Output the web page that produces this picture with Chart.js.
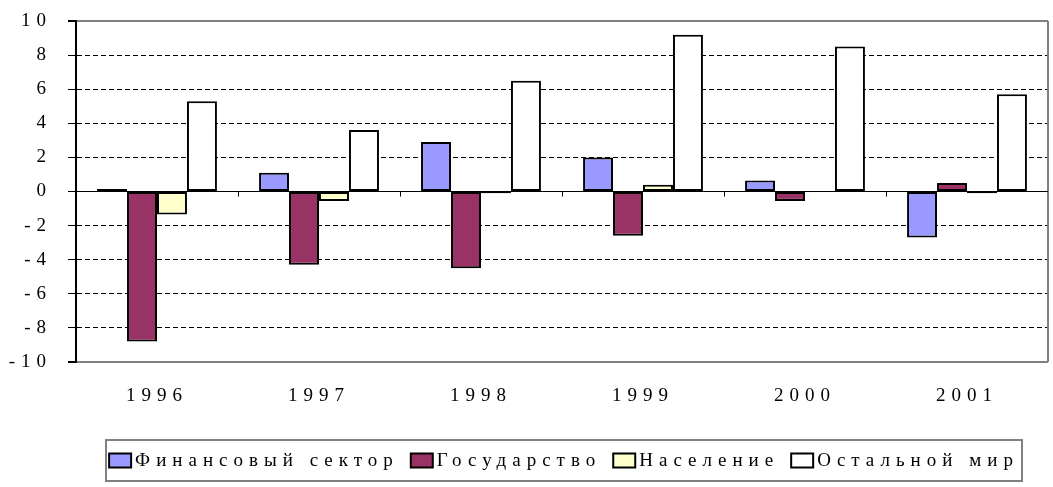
<!DOCTYPE html>
<html>
<head>
<meta charset="utf-8">
<script src="https://cdn.jsdelivr.net/npm/chart.js@4.4.0/dist/chart.umd.min.js"></script>
<style>
  body { margin: 0; background: #fff; }
</style>
</head>
<body>
<canvas id="myChart" width="1053" height="487"></canvas>
<script>
// годы и данные (оценка по картинке)
const years = ['1996', '1997', '1998', '1999', '2000', '2001'];
const finSector = [0.15, 1.1, 2.9, 2.0, 0.65, -2.7];
const government = [-8.8, -4.3, -4.5, -2.6, -0.55, 0.5];
const households = [-1.35, -0.55, -0.1, 0.4, 0, -0.1];
const restOfWorld = [5.3, 3.6, 6.5, 9.2, 8.5, 5.7];
const yMin = -10, yMax = 10, yStep = 2;

const serif = '"Liberation Serif", "Times New Roman", serif';

// letter spacing like the old stretched Excel picture
const spacing = {
  id: 'spacing',
  beforeUpdate(chart) { chart.ctx.letterSpacing = '6px'; },
  beforeLayout(chart) { chart.ctx.letterSpacing = '6px'; },
  beforeDraw(chart) { chart.ctx.letterSpacing = '6px'; }
};

// right frame + small ticks on the zero line
const frame = {
  id: 'frame',
  afterDatasetsDraw(chart) {
    const {ctx, chartArea: a, scales: {x, y}} = chart;
    ctx.save();
    ctx.strokeStyle = '#808080';
    ctx.lineWidth = 2;
    ctx.beginPath();
    ctx.moveTo(a.right, a.top);
    ctx.lineTo(a.right, a.bottom);
    ctx.stroke();
    const y0 = y.getPixelForValue(0);
    const step = a.width / years.length;
    ctx.strokeStyle = '#000';
    ctx.lineWidth = 1;
    ctx.beginPath();
    ctx.moveTo(a.left, y0);
    ctx.lineTo(a.right, y0);
    for (let i = 1; i < years.length; i++) {
      const px = Math.round(x.getPixelForValue(i) - step / 2) + 0.5;
      ctx.moveTo(px, y0);
      ctx.lineTo(px, y0 + 5);
    }
    ctx.stroke();
    ctx.restore();
  }
};

// boxed legend under the chart
const boxLegend = {
  id: 'boxLegend',
  afterDraw(chart) {
    const ctx = chart.ctx;
    const box = {left: 106, top: 440, right: 1022, bottom: 481};
    ctx.save();
    ctx.letterSpacing = '6px';
    ctx.font = '19px ' + serif;
    ctx.textBaseline = 'middle';
    const sqW = 22, sqH = 14, gapText = 4, gapItem = 12;
    const items = chart.data.datasets.map(ds => ({
      label: ds.label, fill: ds.backgroundColor, w: ctx.measureText(ds.label).width
    }));
    let total = 0;
    items.forEach((it, i) => { total += sqW + gapText + it.w + (i ? gapItem : 0); });
    let xx = (box.left + box.right) / 2 - total / 2;
    const cy = (box.top + box.bottom) / 2;
    ctx.strokeStyle = '#808080';
    ctx.lineWidth = 2;
    ctx.strokeRect(box.left, box.top, box.right - box.left, box.bottom - box.top);
    items.forEach(it => {
      ctx.fillStyle = it.fill;
      ctx.fillRect(xx, cy - sqH / 2, sqW, sqH);
      ctx.strokeStyle = '#000';
      ctx.lineWidth = 2;
      ctx.strokeRect(xx, cy - sqH / 2, sqW, sqH);
      ctx.fillStyle = '#000';
      ctx.fillText(it.label, xx + sqW + gapText, cy + 1);
      xx += sqW + gapText + it.w + gapItem;
    });
    ctx.restore();
  }
};

const ctx = document.getElementById('myChart');

new Chart(ctx, {
  type: 'bar',
  data: {
    labels: years,
    datasets: [
      { label: 'Финансовый сектор', data: finSector, backgroundColor: '#9999FF' },
      { label: 'Государство', data: government, backgroundColor: '#993366' },
      { label: 'Население', data: households, backgroundColor: '#FFFFCC' },
      { label: 'Остальной мир', data: restOfWorld, backgroundColor: '#FFFFFF' }
    ]
  },
  options: {
    responsive: false,
    animation: false,
    devicePixelRatio: 1,
    datasets: {
      bar: {
        borderColor: '#000',
        borderWidth: 2,
        borderSkipped: false,
        categoryPercentage: 0.74,
        barPercentage: 1
      }
    },
    layout: { padding: { left: 0, top: 21, right: 5, bottom: 85 } },
    plugins: {
      legend: { display: false },
      tooltip: { enabled: false }
    },
    scales: {
      x: {
        grid: { display: false, drawTicks: false },
        border: { display: false },
        ticks: { color: '#000', padding: 23, font: { family: serif, size: 19 } },
        afterFit(scale) { scale.height = 40; }
      },
      y: {
        min: yMin,
        max: yMax,
        ticks: {
          stepSize: yStep,
          color: '#000',
          padding: 16,
          font: { family: serif, size: 19 }
        },
        grid: {
          color: c => (Math.abs(c.tick.value) === yMax ? '#808080' : '#000'),
          lineWidth: c => (Math.abs(c.tick.value) === yMax ? 2 : 1),
          tickColor: '#000',
          tickLength: 8,
          tickBorderDash: []
        },
        border: {
          color: '#000',
          width: 2,
          dash: c => (c.tick && (c.tick.value === 0 || Math.abs(c.tick.value) === yMax) ? [] : [5, 3])
        },
        afterFit(scale) {
          scale.width = 76;
          scale.paddingTop = 10;
          scale.paddingBottom = 10;
        }
      }
    }
  },
  plugins: [spacing, frame, boxLegend]
});
</script>
</body>
</html>
